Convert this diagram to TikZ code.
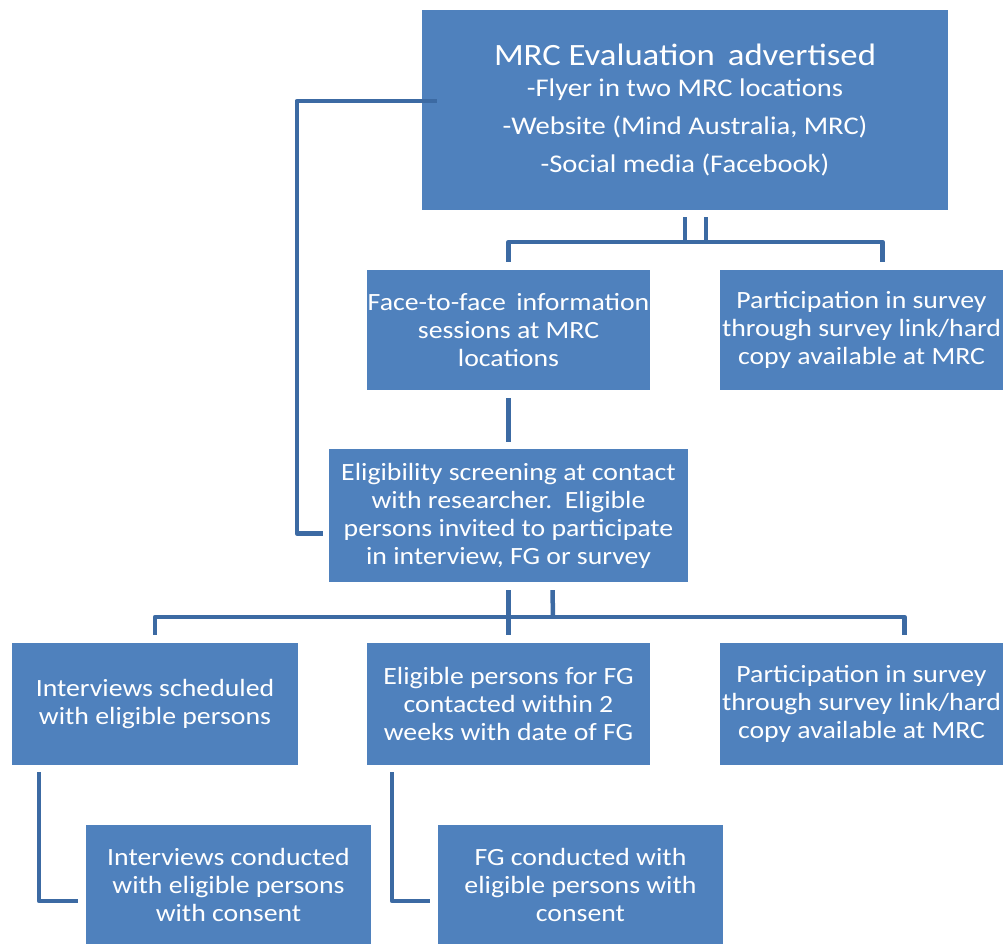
\documentclass[tikz,border=0pt]{standalone}
\usepackage{fontspec}
\setmainfont{Carlito}[FakeStretch=1.12]
\usepackage{xcolor}
\usepackage{tikz}
\definecolor{boxblue}{HTML}{4F81BD}
\definecolor{lineblue}{HTML}{3C6AA3}

\begin{document}
\begin{tikzpicture}[x=1pt,y=-1pt,
  box/.style={fill=boxblue,text=white,align=center,inner sep=0pt,font=\fontsize{24.8}{28}\selectfont},
  link/.style={draw=lineblue,line width=4.5pt,line join=round}]
\useasboundingbox (0,0) rectangle (1006,943);
% boxes
\node[box,minimum width=526pt,minimum height=200pt,font=\fontsize{25.5}{38}\selectfont] (advert) at (685,110)
  {{\fontsize{31}{31}\selectfont MRC Evaluation\, advertised}\\[-7pt]
   -Flyer in two MRC locations\\ -Website (Mind Australia, MRC)\\ -Social media (Facebook)};
\node[box,minimum width=283pt,minimum height=120pt] (face) at (508.5,330)
  {Face-to-face\, information\\ sessions at MRC\\ locations};
\node[box,minimum width=283pt,minimum height=120pt] (surveyA) at (861.5,330)
  {Participation in survey\\ through survey link/hard\\ copy available at MRC};
\node[box,minimum width=359pt,minimum height=133pt] (screen) at (508.5,515.5)
  {Eligibility screening at contact\\ with researcher.\, Eligible\\ persons invited to participate\\ in interview, FG or survey};
\node[box,minimum width=286pt,minimum height=122pt] (interview) at (155,704)
  {Interviews scheduled\\ with eligible persons};
\node[box,minimum width=283pt,minimum height=122pt] (fgcontact) at (508.5,704)
  {Eligible persons for FG\\ contacted within 2\\ weeks with date of FG};
\node[box,minimum width=283pt,minimum height=122pt] (surveyB) at (861.5,704)
  {Participation in survey\\ through survey link/hard\\ copy available at MRC};
\node[box,minimum width=285pt,minimum height=120pt] (intdone) at (228.5,885)
  {Interviews conducted\\ with eligible persons\\ with consent};
\node[box,minimum width=285pt,minimum height=120pt] (fgdone) at (580.5,885)
  {FG conducted with\\ eligible persons with\\ consent};
% connectors
\coordinate (bus1) at (685,242);
\coordinate (bus2) at (509,617);
\draw[link] ([yshift=-7pt]advert.south) -- (bus1);
\draw[link] ([xshift=21pt,yshift=-7pt]advert.south) -- ([xshift=21pt]bus1);
\draw[link] ([yshift=8pt]face.north) |- (bus1) -| ([xshift=21pt,yshift=8pt]surveyA.north);
\draw[link] ([xshift=15pt,yshift=9pt]advert.west) -| ([xshift=-32pt,yshift=-18pt]screen.west) -- ([xshift=-6pt,yshift=-18pt]screen.west);
\draw[link] ([yshift=-8pt]face.south) -- ([yshift=7pt]screen.north);
\draw[link] ([yshift=-8pt]screen.south) -- ([yshift=8pt]fgcontact.north);
\draw[link] ([xshift=44pt,yshift=-8pt]screen.south) -- ([xshift=44pt]bus2);
\draw[link] ([yshift=8pt]interview.north) |- (bus2) -| ([xshift=43pt,yshift=8pt]surveyB.north);
\draw[link] ([xshift=-116pt,yshift=-7pt]interview.south) |- ([xshift=-8pt,yshift=-16pt]intdone.west);
\draw[link] ([xshift=-116.5pt,yshift=-7pt]fgcontact.south) |- ([xshift=-8pt,yshift=-16pt]fgdone.west);
\end{tikzpicture}
\end{document}
